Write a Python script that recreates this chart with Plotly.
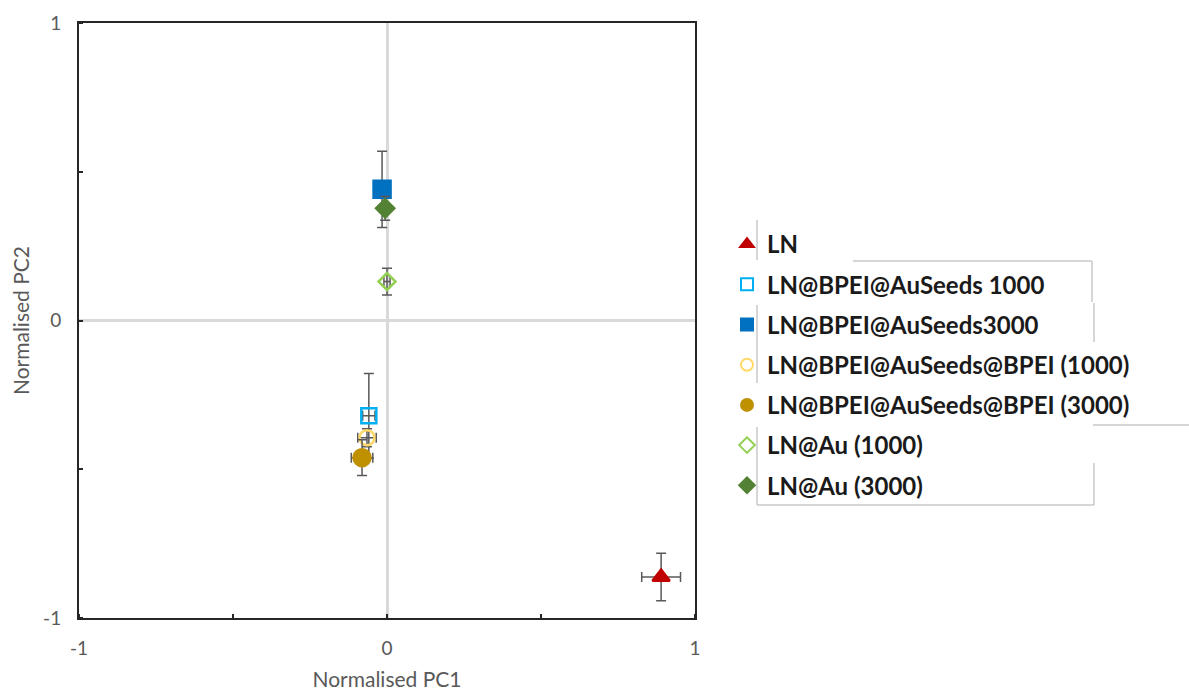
import plotly.graph_objects as go

# ---- data ----
series = ["LN", "LN@BPEI@AuSeeds 1000", "LN@BPEI@AuSeeds3000",
          "LN@BPEI@AuSeeds@BPEI (1000)", "LN@BPEI@AuSeeds@BPEI (3000)",
          "LN@Au (1000)", "LN@Au (3000)"]
pc1 = [0.89, -0.059, -0.016, -0.065, -0.081, 0.0, -0.006]
pc2 = [-0.862, -0.32, 0.441, -0.394, -0.461, 0.131, 0.377]
pc1_err = [0.063, 0.02, 0.02, 0.03, 0.035, 0.01, 0.01]
pc2_err = [0.08, 0.142, 0.128, 0.03, 0.06, 0.045, 0.04]
tick_vals = [-1, 0, 1]
tick_text = ["-1", "0", "1"]

# ---- styles ----
colors = ["#C00000", "#00B0F0", "#0070C0", "#FFD966", "#BF9000", "#92D050", "#548235"]
symbols = ["triangle-up", "square-open", "square", "circle-open", "circle",
           "diamond-open", "diamond"]
sizes = [15, 15, 17, 15, 17, 13, 14]

W, H = 1189, 691
L, R, T, B = 79, 695, 23, 618

fig = go.Figure()
for i, name in enumerate(series):
    fig.add_trace(go.Scatter(
        x=[pc1[i]], y=[pc2[i]], mode="markers", name=name,
        legendgroup=f"g{i}",
        marker=dict(symbol=symbols[i], color=colors[i], size=sizes[i],
                    line=dict(color=colors[i], width=2.5)),
        error_y=dict(type="data", array=[pc2_err[i]], color="#595959",
                     thickness=1.5, width=5),
        error_x=dict(type="data", array=[pc1_err[i]], color="#595959",
                     thickness=1.5, width=5),
    ))

axis_common = dict(
    range=[-1, 1], tickvals=tick_vals, ticktext=tick_text, ticks="",
    showgrid=False, zeroline=True, zerolinecolor="#D9D9D9", zerolinewidth=2.5,
    showline=True, mirror=True, linecolor="#262626", linewidth=2,
    tickfont=dict(family="Lato", size=19, color="#595959"),
    minor=dict(dtick=0.5, tick0=0, ticks="inside", ticklen=4,
               tickcolor="#262626", tickwidth=2, showgrid=False),
)
title_font = dict(family="Lato", size=21, color="#595959")

fig.update_layout(
    width=W, height=H,
    margin=dict(l=L, r=W - R, t=T, b=H - B, autoexpand=False),
    paper_bgcolor="white", plot_bgcolor="white",
    showlegend=True,
    xaxis=dict(**axis_common, ticklabelstandoff=12,
               title=dict(text="Normalised PC1", font=title_font, standoff=17)),
    yaxis=dict(**axis_common, ticklabelstandoff=12,
               title=dict(text="Normalised PC2", font=title_font, standoff=8)),
    legend=dict(x=(727 - L) / (R - L), xanchor="left",
                y=(B - 222) / (B - T), yanchor="top",
                font=dict(family="Lato", size=24, color="#1a1a1a", weight="bold"),
                itemsizing="constant",
                tracegroupgap=6, bgcolor="rgba(0,0,0,0)", borderwidth=0),
)

# decorative fragments of the legend box seen in the reference
def px2p(xp, yp):
    return (xp - L) / (R - L), (B - yp) / (B - T)

segs = [((757, 220), (757, 260)), ((853, 261), (1092, 261)), ((1092, 261), (1092, 302)),
        ((1094, 303), (1094, 342)), ((757, 305), (757, 383)), ((1093, 425), (1189, 425)),
        ((757, 427), (757, 505)), ((1094, 463), (1094, 505)), ((757, 505), (1094, 505))]
for (a, b) in segs:
    x0, y0 = px2p(*a)
    x1, y1 = px2p(*b)
    fig.add_shape(type="line", xref="paper", yref="paper", x0=x0, y0=y0, x1=x1, y1=y1,
                  line=dict(color="#C8C8C8", width=1.5))

fig.write_html("out.html", config={"displayModeBar": False},
               post_script="document.body.style.margin='0px';document.body.style.overflow='hidden';")
